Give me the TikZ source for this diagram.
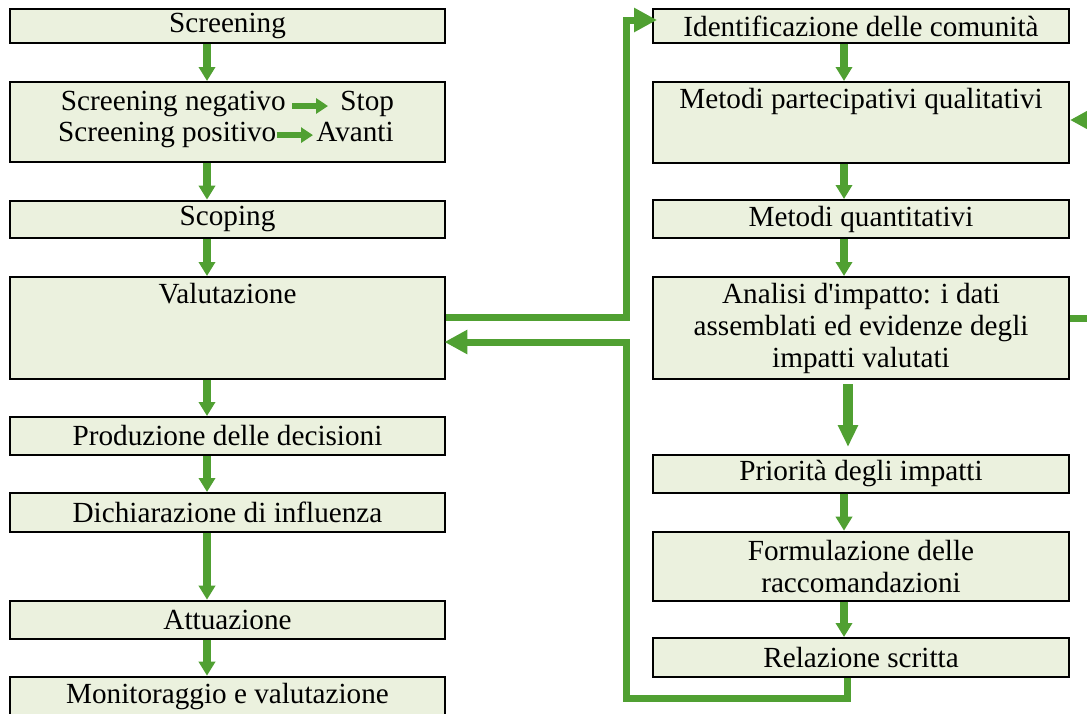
\documentclass[tikz,border=0pt]{standalone}
\usepackage{fontspec}
\setmainfont{Liberation Serif}
\usetikzlibrary{arrows.meta,positioning}

\definecolor{boxfill}{HTML}{EBF1DE}
\definecolor{flowgreen}{HTML}{50A032}

\begin{document}
\begin{tikzpicture}[x=0.5pt,y=-0.5pt,
    box/.style={draw=black, line width=1pt, fill=boxfill, inner sep=0pt, align=center,
      font=\fontsize{14.6pt}{16pt}\selectfont},
    lbox/.style={box, minimum width=217.5pt},
    rbox/.style={box, minimum width=208pt},
    word/.style={inner sep=0pt, font=\fontsize{14.6pt}{16pt}\selectfont},
    flow/.style={draw=flowgreen, line width=3.75pt, -{Triangle[width=8pt,length=7pt]}},
    bigflow/.style={draw=flowgreen, line width=5pt, -{Triangle[width=9.5pt,length=11pt]}},
    tick/.style={draw=flowgreen, line width=3pt, -{Triangle[width=7.5pt,length=6pt]}},
    link/.style={draw=flowgreen, line width=3.5pt, -{Triangle[width=11.5pt,length=11.5pt]}}]
        \useasboundingbox (0,0) rectangle (1087,713);
        \clip (0,0) rectangle (1087,713);

        % Left column
        \node[lbox, minimum height=17.3pt] (scr) at (227.5,26) {Screening};
        \node[lbox, minimum height=40pt] (sneg) at (227.5,122) {};
        \node[lbox, minimum height=18.65pt] (scop) at (227.5,219.3) {Scoping};
        \node[lbox, text height=13pt, text depth=38pt] (valu) at (227.5,328) {Valutazione};
        \node[lbox, minimum height=19pt] (prod) at (227.5,436) {Produzione delle decisioni};
        \node[lbox, minimum height=19.5pt] (dich) at (227.5,512.5) {Dichiarazione di influenza};
        \node[lbox, minimum height=19.15pt] (attu) at (227.5,619.85) {Attuazione};
        \node[lbox, minimum height=19.65pt] (moni) at (227.5,696.35) {Monitoraggio e valutazione};

        % Screening outcomes
        \node[word, anchor=base east] (negt) at (286,110) {Screening negativo};
        \node[word, anchor=base west] (stop) at (340,110) {Stop};
        \node[word, anchor=base east] (post) at (276.7,141.7) {Screening positivo};
        \node[word, anchor=base west] (avan) at (316,141.7) {Avanti};
        \draw[tick] ([xshift=3pt,yshift=2pt]negt.base east) -- ([xshift=-6pt,yshift=2pt]stop.base west);
        \draw[tick] ([xshift=0pt,yshift=3.3pt]post.base east) -- ([xshift=-1.5pt,yshift=3.3pt]avan.base west);

        % Right column
        \node[rbox, minimum height=17pt] (iden) at (861,26) {Identificazione delle comunità};
        \node[rbox, text height=13pt, text depth=27.5pt] (metp) at (861,122.5) {Metodi partecipativi qualitativi};
        \node[rbox, minimum height=19pt] (metq) at (861,219) {Metodi quantitativi};
        \node[rbox, minimum height=51pt] (anal) at (861,328) {Analisi d\textquotesingle impatto: i dati\\ assemblati ed evidenze degli\\ impatti valutati};
        \node[rbox, minimum height=18.85pt] (prio) at (861,473.85) {Priorità degli impatti};
        \node[rbox, minimum height=34.5pt] (form) at (861,566.2) {Formulazione delle\\ raccomandazioni};
        \node[rbox, minimum height=19.35pt] (rela) at (861,657.35) {Relazione scritta};

        % Left flow
        \draw[flow] ([xshift=-10.25pt]scr.south) -- ([xshift=-10.25pt]sneg.north);
        \draw[flow] ([xshift=-10.25pt]sneg.south) -- ([xshift=-10.25pt]scop.north);
        \draw[flow] ([xshift=-10.25pt]scop.south) -- ([xshift=-10.25pt]valu.north);
        \draw[flow] ([xshift=-10.25pt]valu.south) -- ([xshift=-10.25pt]prod.north);
        \draw[flow] ([xshift=-10.25pt]prod.south) -- ([xshift=-10.25pt]dich.north);
        \draw[flow] ([xshift=-10.25pt]dich.south) -- ([xshift=-10.25pt]attu.north);
        \draw[flow] ([xshift=-10.25pt]attu.south) -- ([xshift=-10.25pt]moni.north);

        % Right flow
        \draw[flow] ([xshift=-8.5pt]iden.south) -- ([xshift=-8.5pt]metp.north);
        \draw[flow] ([xshift=-8.5pt]metp.south) -- ([xshift=-8.5pt]metq.north);
        \draw[flow] ([xshift=-8.5pt]metq.south) -- ([xshift=-8.5pt]anal.north);
        \draw[bigflow] ([xshift=-6.5pt,yshift=-2pt]anal.south) -- ([xshift=-6.5pt,yshift=3.5pt]prio.north);
        \draw[flow] ([xshift=-8.5pt]prio.south) -- ([xshift=-8.5pt]form.north);
        \draw[flow] ([xshift=-8.5pt]form.south) -- ([xshift=-8.5pt]rela.north);

        % Links between the columns
        \coordinate (jA) at (626.5,20);
        \coordinate (jB) at (626.5,698);
        \coordinate (jC) at (1105,120);
        \draw[link, shorten >=-2.5pt] ([yshift=5.5pt]valu.east) -| (jA) -- ([yshift=3pt]iden.west);
        \draw[link, shorten >=-0.8pt] ([xshift=-7pt]rela.south) |- (jB) |- ([yshift=-7pt]valu.east);
        \draw[link] ([yshift=5pt]anal.east) -| (jC) -- ([yshift=1.25pt]metp.east);
    \end{tikzpicture}
\end{document}
